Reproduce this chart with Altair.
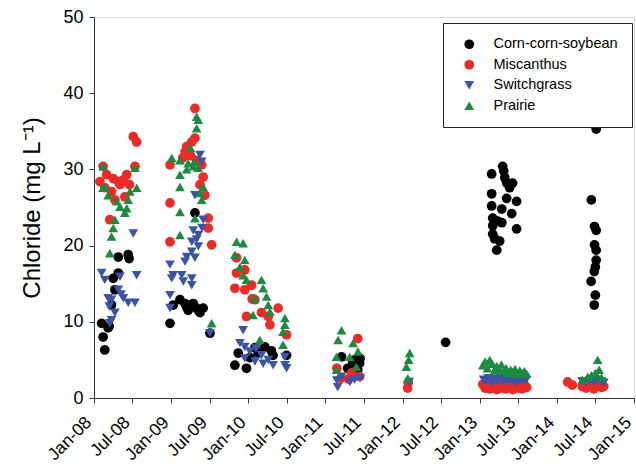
import altair as alt
import pandas as pd
from datetime import datetime

# ---- data (decimal year, chloride mg/L) ----
corn_t = [2008.444, 2008.455, 2008.315, 2008.315, 2008.25, 2008.272, 2008.229, 2008.10, 2008.185, 2008.198, 2008.12, 2008.142,
          2008.984, 2009.027, 2009.114, 2009.179, 2009.244, 2009.286, 2009.33, 2009.373, 2009.221, 2009.416, 2009.20, 2009.35,
          2009.308, 2009.503,
          2009.869, 2009.826, 2009.978, 2010.085, 2010.323, 2010.496, 2010.128, 2010.215, 2010.02, 2010.30,
          2011.21, 2011.355, 2011.446, 2011.29, 2011.42, 2011.38, 2011.45,
          2012.56,
          2013.298, 2013.31, 2013.155, 2013.324, 2013.35, 2013.427, 2013.389, 2013.155, 2013.35, 2013.479, 2013.155,
          2013.285, 2013.415, 2013.168, 2013.233, 2013.285, 2013.168, 2013.479, 2013.168, 2013.194, 2013.259, 2013.22,
          2014.51, 2014.447, 2014.49, 2014.51, 2014.49, 2014.51, 2014.51, 2014.50, 2014.485, 2014.445, 2014.50, 2014.485]
corn_v = [18.8, 18.3, 18.5, 16.4, 15.7, 14.2, 12.2, 9.8, 9.2, 9.4, 8.0, 6.3,
          9.8, 12.2, 12.9, 12.4, 12.2, 12.4, 11.8, 11.2, 11.5, 11.8, 11.9, 11.5,
          24.3, 8.5,
          5.9, 4.3, 3.9, 6.6, 5.6, 5.6, 5.9, 6.7, 5.3, 6.2,
          5.4, 4.6, 4.6, 3.9, 3.7, 5.0, 5.2,
          7.3,
          30.4, 29.8, 29.4, 28.9, 28.2, 28.2, 27.6, 26.8, 26.2, 25.8, 25.2,
          24.8, 24.2, 23.6, 23.2, 23.0, 22.6, 22.2, 21.5, 20.9, 20.6, 19.4,
          35.3, 26.0, 22.5, 22.0, 20.1, 19.4, 18.1, 17.2, 16.6, 15.3, 13.5, 12.2]

misc_t = [2008.509, 2008.553, 2008.12, 2008.531, 2008.078, 2008.165, 2008.25, 2008.315, 2008.38, 2008.424, 2008.337,
          2008.229, 2008.272, 2008.207, 2008.142, 2008.40, 2008.46,
          2009.308, 2008.984, 2008.984, 2008.984, 2009.20, 2009.266, 2009.308, 2009.179, 2009.395, 2009.416, 2009.373,
          2009.438, 2009.48, 2009.48, 2009.525, 2009.33, 2009.25, 2009.15,
          2009.848, 2009.848, 2009.826, 2009.956, 2010.043, 2009.956, 2010.085, 2009.978, 2010.172, 2010.258, 2010.28,
          2010.387, 2010.496, 2010.05,
          2011.42, 2011.148, 2011.342, 2011.446, 2011.20, 2011.30,
          2012.067, 2012.075,
          2013.04, 2013.07, 2013.10, 2013.13, 2013.16, 2013.19, 2013.22, 2013.25, 2013.28, 2013.31, 2013.34, 2013.37,
          2013.40, 2013.43, 2013.46, 2013.49, 2013.52, 2013.55, 2013.58, 2013.61,
          2014.14, 2014.20, 2014.33, 2014.38, 2014.43, 2014.48, 2014.53, 2014.58, 2014.61]
misc_v = [34.3, 33.6, 30.4, 30.4, 28.4, 29.3, 28.8, 28.4, 28.6, 29.3, 28.0,
          27.1, 26.0, 23.4, 27.6, 26.4, 28.0,
          38.0, 30.6, 25.6, 20.5, 33.0, 33.6, 34.1, 32.3, 30.6, 29.0, 28.0,
          26.6, 23.6, 22.3, 20.1, 31.2, 31.8, 31.5,
          18.4, 16.4, 14.4, 14.2, 14.8, 16.8, 12.9, 10.7, 11.2, 10.7, 9.6,
          11.8, 8.3, 13.0,
          7.8, 3.9, 3.3, 2.8, 2.6, 2.5,
          1.3, 2.0,
          1.8, 1.3, 1.6, 1.2, 1.9, 1.4, 1.1, 1.7, 1.3, 1.5, 1.2, 1.8,
          1.4, 1.1, 1.6, 1.3, 1.5, 1.2, 1.7, 1.4,
          2.1, 1.7, 1.5, 1.3, 1.6, 1.2, 1.8, 1.4, 1.5]

swit_t = [2008.509, 2008.10, 2008.142, 2008.337, 2008.553, 2008.315, 2008.185, 2008.229, 2008.38, 2008.444, 2008.531,
          2008.272, 2008.229, 2008.207, 2008.20, 2008.35,
          2009.373, 2009.395, 2009.308, 2009.416, 2009.286, 2009.351, 2009.266, 2009.351, 2009.266, 2009.20, 2009.308,
          2009.179, 2008.984, 2009.027, 2009.136, 2009.006, 2009.157, 2009.266, 2009.266, 2008.984, 2008.984, 2009.503,
          2009.33, 2009.40,
          2009.934, 2009.891, 2009.956, 2010.02, 2009.956, 2010.085, 2010.172, 2010.193, 2010.258, 2010.323, 2010.474,
          2010.474, 2010.496, 2010.10,
          2011.148, 2011.16, 2011.32, 2011.45, 2011.21, 2011.38,
          2012.09,
          2013.05, 2013.08, 2013.11, 2013.14, 2013.17, 2013.20, 2013.23, 2013.26, 2013.29, 2013.32, 2013.35, 2013.38,
          2013.41, 2013.44, 2013.47, 2013.50, 2013.53, 2013.56, 2013.60,
          2014.33, 2014.38, 2014.43, 2014.48, 2014.53, 2014.58, 2014.61]
swit_v = [21.6, 16.4, 15.5, 15.9, 16.1, 14.2, 13.1, 12.9, 13.1, 12.5, 12.5,
          11.2, 10.2, 9.8, 12.0, 13.6,
          31.9, 31.0, 26.6, 23.4, 22.0, 21.4, 20.5, 19.9, 19.2, 18.5, 18.4,
          17.9, 17.5, 16.1, 16.1, 15.7, 15.3, 15.7, 14.8, 13.5, 11.8, 8.5,
          20.8, 22.3,
          8.9, 7.2, 6.7, 6.1, 5.2, 4.8, 5.6, 4.5, 5.0, 4.3, 5.4,
          4.3, 3.9, 6.5,
          2.3, 1.4, 2.1, 2.6, 2.8, 2.4,
          2.1,
          2.4, 2.2, 2.6, 2.3, 2.0, 2.5, 2.2, 2.7, 2.3, 2.1, 2.5, 2.2,
          2.6, 2.3, 2.0, 2.4, 2.2, 2.5, 2.3,
          2.2, 2.0, 2.3, 2.1, 2.4, 2.2, 2.0]

prai_t = [2008.12, 2008.531, 2008.553, 2008.12, 2008.294, 2008.337, 2008.444, 2008.424, 2008.40, 2008.272, 2008.25,
          2008.229, 2008.207, 2008.466, 2008.14, 2008.185,
          2009.33, 2009.351, 2009.33, 2009.25, 2009.006, 2009.114, 2009.221, 2009.286, 2009.114, 2009.114, 2009.416,
          2009.373, 2009.395, 2009.114, 2009.308, 2009.114, 2009.525, 2009.20, 2009.30, 2009.35,
          2009.848, 2009.934, 2009.826, 2009.956, 2009.891, 2009.934, 2009.978, 2010.172, 2010.193, 2010.085, 2010.237,
          2010.258, 2010.28, 2010.063, 2010.474, 2010.474, 2010.452, 2010.452, 2010.15,
          2011.21, 2011.165, 2011.144, 2011.36, 2011.424, 2011.316, 2011.40, 2011.144,
          2012.093, 2012.05, 2012.07, 2012.08,
          2013.04, 2013.07, 2013.10, 2013.13, 2013.16, 2013.19, 2013.22, 2013.25, 2013.28, 2013.31, 2013.34, 2013.37,
          2013.40, 2013.43, 2013.46, 2013.49, 2013.52, 2013.55, 2013.58, 2013.61,
          2014.33, 2014.40, 2014.45, 2014.50, 2014.53, 2014.55, 2014.58]
prai_v = [30.4, 30.2, 27.6, 27.6, 25.8, 25.1, 26.0, 24.9, 24.3, 23.4, 22.3,
          21.2, 19.0, 27.1, 27.7, 26.6,
          36.9, 36.5, 35.4, 32.8, 31.5, 31.2, 30.8, 30.4, 29.3, 27.7, 27.7,
          26.9, 26.0, 24.4, 23.6, 21.4, 9.8, 30.0, 31.0, 30.2,
          20.5, 20.3, 18.8, 18.1, 17.2, 16.1, 15.5, 15.5, 14.4, 13.1, 13.3,
          12.2, 11.3, 10.9, 10.5, 9.6, 8.7, 7.0, 7.6,
          8.9, 7.6, 5.4, 7.2, 6.1, 5.4, 4.1, 3.7,
          5.9, 4.1, 2.6, 5.0,
          4.3, 4.8, 3.9, 5.0, 4.5, 3.6, 4.2, 3.8, 4.4, 3.5, 3.9, 3.3,
          3.7, 3.4, 3.8, 3.2, 3.6, 3.3, 3.5, 3.2,
          2.4, 2.8, 3.0, 3.3, 5.0, 3.7, 2.7]

series = ["Corn-corn-soybean", "Miscanthus", "Switchgrass", "Prairie"]
colors = ["#000000", "#EC2A26", "#3A55A6", "#1C8A40"]
shapes = ["circle", "circle", "triangle-down", "triangle-up"]
sizes = [95, 95, 125, 125]
tick_years = [2008, 2008, 2009, 2009, 2010, 2010, 2011, 2011, 2012, 2012, 2013, 2013, 2014, 2014, 2015]
tick_months = [1, 7, 1, 7, 1, 7, 1, 7, 1, 7, 1, 7, 1, 7, 1]


def to_date(t):
    y = int(t)
    start = datetime(y, 1, 1)
    end = datetime(y + 1, 1, 1)
    return (start + (end - start) * (t - y)).strftime("%Y-%m-%d")


rows = []
for name, ts, vs in zip(series, [corn_t, misc_t, swit_t, prai_t], [corn_v, misc_v, swit_v, prai_v]):
    for t, v in zip(ts, vs):
        rows.append({"date": to_date(t), "value": v, "series": name})
df = pd.DataFrame(rows)

FONT = "Liberation Sans"

legend = alt.Legend(
    title=None, orient="none", legendX=349, legendY=6,
    strokeColor="#222", fillColor="white", padding=14,
    labelFont=FONT, labelFontSize=14.5, labelColor="black",
    symbolSize=95, symbolOffset=5, labelOffset=17, rowPadding=5.5,
    symbolStrokeWidth=0,
)

tick_values = [alt.DateTime(year=y, month=m, date=1, utc=True) for y, m in zip(tick_years, tick_months)]

chart = alt.Chart(df).mark_point(filled=True, opacity=1, strokeWidth=0).encode(
    x=alt.X("date:T",
            scale=alt.Scale(type="utc",
                            domain=[alt.DateTime(year=2008, month=1, date=1, utc=True),
                                    alt.DateTime(year=2015, month=1, date=1, utc=True)]),
            axis=alt.Axis(values=tick_values, format="%b-%y", labelAngle=-45, title=None, grid=False,
                          labelFont=FONT, labelFontSize=17.5, labelColor="black", tickSize=5,
                          labelAlign="right", labelBaseline="alphabetic", labelPadding=20, labelOffset=-2,
                          labelOverlap=False, labelBound=False, labelFlush=False,
                          domainColor="#333", tickColor="#333")),
    y=alt.Y("value:Q",
            scale=alt.Scale(domain=[0, 50], nice=False),
            axis=alt.Axis(values=[0, 10, 20, 30, 40, 50], title="Chloride (mg L⁻¹)", grid=False,
                          labelFont=FONT, labelFontSize=18, labelColor="black", tickSize=5, labelPadding=6,
                          titleFont=FONT, titleFontSize=24, titleFontWeight="normal", titleColor="black",
                          titlePadding=18, domainColor="#333", tickColor="#333")),
    color=alt.Color("series:N", scale=alt.Scale(domain=series, range=colors), legend=legend),
    shape=alt.Shape("series:N", scale=alt.Scale(domain=series, range=shapes), legend=legend),
    size=alt.Size("series:N", scale=alt.Scale(domain=series, range=sizes), legend=None),
).properties(
    width=540, height=381,
    padding={"left": 94, "top": 17, "right": 2, "bottom": 66},
    autosize=alt.AutoSizeParams(type="none"),
).configure_view(
    stroke="#333", strokeWidth=1
).configure_legend(
    strokeWidth=1
).configure(background="white")

chart.save("out.html", embed_options={"renderer": "svg", "actions": False})
